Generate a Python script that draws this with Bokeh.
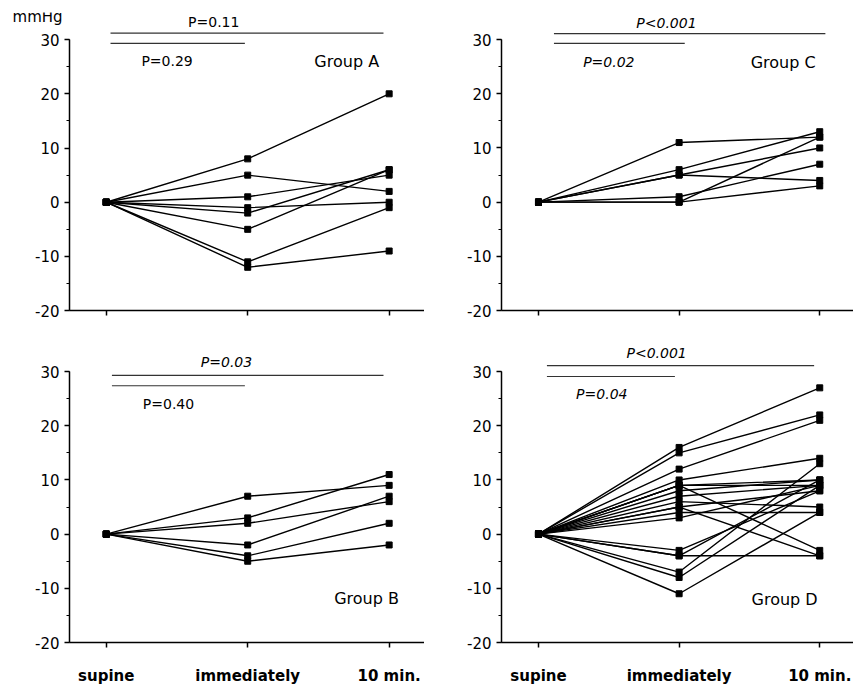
from bokeh.plotting import figure
from bokeh.layouts import column, row
from bokeh.models import Label, FixedTicker, SingleIntervalTicker, Range1d
from bokeh.embed import file_html
from bokeh.resources import INLINE

# ---------------- data ----------------
categories = ["supine", "immediately", "10 min."]

# Group A
a_immediately = [8, 5, 1, -1, -2, -5, -11, -12]
a_10min = [20, 2, 5, 0, 6, 6, -1, -9]
# Group C
c_immediately = [11, 6, 5, 5, 1, 0, 0]
c_10min = [12, 13, 10, 4, 7, 12, 3]
# Group B
b_immediately = [7, 3, 2, -2, -4, -5]
b_10min = [9, 11, 6, 7, 2, -2]
# Group D
d_immediately = [16, 15, 12, 10, 9, 9, 9, 8, 7, 6, 5, 5, 4, 3, -3, -4, -4, -7, -8, -11]
d_10min = [27, 22, 21, 14, 10, 9, -3, 10, 9, 5, 8, -4, 4, 9, 8, -4, 10, 13, 9, 4]

y_ticks = [-20, -10, 0, 10, 20, 30]
y_tick_labels = ["-20", "-10", "0", "10", "20", "30"]

FONT = "DejaVu Sans"


def make_panel(imm, ten, group, p_long, p_short, p_long_italic, p_short_italic,
               xr, frame_w, left, top, bottom, show_cats, geom,
               axis_at=None, y_lo=-20, frame_h=298):
    p = figure(frame_width=frame_w, frame_height=frame_h,
               x_range=Range1d(*xr), y_range=Range1d(y_lo, 35),
               output_backend="svg", toolbar_location=None,
               min_border_left=left, min_border_right=0,
               min_border_top=top, min_border_bottom=bottom)
    p.outline_line_color = None
    p.grid.visible = False

    # y axis
    ya = p.yaxis[0]
    ya.ticker = SingleIntervalTicker(interval=10, num_minor_ticks=2)
    ya.bounds = (-20, 30)
    ya.major_label_overrides = {t: l for t, l in zip(y_ticks, y_tick_labels)}
    ya.major_tick_out = 5
    ya.major_tick_in = 0
    ya.minor_tick_out = 3
    ya.minor_tick_in = 0
    ya.axis_line_width = 1.5
    ya.major_tick_line_width = 1.5
    ya.major_label_standoff = 5
    ya.major_label_text_font = FONT
    ya.major_label_text_font_size = "15px"
    ya.major_label_text_color = "black"
    if axis_at is not None:
        ya.fixed_location = axis_at

    # x axis
    xa = p.xaxis[0]
    xa.ticker = FixedTicker(ticks=[0, 1, 2], minor_ticks=[])
    if axis_at is not None:
        xa.bounds = (axis_at, xr[1])
        xa.fixed_location = -20
    if show_cats:
        xa.major_label_overrides = {i: c for i, c in enumerate(categories)}
    else:
        xa.major_label_overrides = {i: "" for i in range(3)}
    xa.major_tick_out = 5
    xa.major_tick_in = 0
    xa.axis_line_width = 1.5
    xa.major_tick_line_width = 1.5
    xa.major_label_standoff = 19
    xa.major_label_text_font = FONT
    xa.major_label_text_font_size = "15px"
    xa.major_label_text_font_style = "bold"
    xa.major_label_text_color = "black"

    # subject lines
    xs = [[0, 1, 2] for _ in imm]
    ys = [[0, a, b] for a, b in zip(imm, ten)]
    p.multi_line(xs, ys, line_color="black", line_width=1.4)
    px = []
    py = []
    for a, b in zip(imm, ten):
        px += [0, 1, 2]
        py += [0, a, b]
    p.scatter(px, py, marker="square", size=6, color="black")

    # P-value bars
    (lx0, lx1, ly), (sx0, sx1, sy), (ptx, pty), (pstx, psty), (gx, gy) = geom
    p.line([lx0, lx1], [ly, ly], line_color="#333333", line_width=1.1)
    p.line([sx0, sx1], [sy, sy], line_color="#333333", line_width=1.1)
    p.add_layout(Label(x=ptx, y=pty, text=p_long, text_font=FONT, text_font_size="14px",
                       text_font_style="italic" if p_long_italic else "normal",
                       text_color="black", text_align="center", text_baseline="middle"))
    p.add_layout(Label(x=pstx, y=psty, text=p_short, text_font=FONT, text_font_size="14px",
                       text_font_style="italic" if p_short_italic else "normal",
                       text_color="black", text_align="center", text_baseline="middle"))
    p.add_layout(Label(x=gx, y=gy, text=group, text_font=FONT, text_font_size="16px",
                       text_color="black", text_align="center", text_baseline="middle"))
    return p


# Panel A: frame widened left and down so the "mmHg" unit label and the axis labels sit inside it
pA = make_panel(a_immediately, a_10min, "Group A", "P=0.11", "P=0.29", False, False,
                (-0.663, 2.25), 412, 12, 12, 23, False,
                ((0.03, 1.96, 31.2), (0.03, 0.98, 29.3), (0.76, 33.2), (0.43, 26.0), (1.70, 26.0)),
                axis_at=-0.26, y_lo=-22, frame_h=309)
pA.add_layout(Label(x=-0.486, y=34.1, text="mmHg",
                    text_font=FONT, text_font_size="15px", text_color="black",
                    text_align="center", text_baseline="middle"))

pC = make_panel(c_immediately, c_10min, "Group C", "P<0.001", "P=0.02", True, True,
                (-0.263, 2.24), 352, 77, 12, 34, False,
                ((0.11, 2.04, 31.1), (0.11, 1.04, 29.3), (0.91, 33.0), (0.50, 25.8), (1.74, 25.8)))

pB = make_panel(b_immediately, b_10min, "Group B", "P=0.03", "P=0.40", True, False,
                (-0.26, 2.25), 355, 69, 0, 44, True,
                ((0.04, 1.96, 29.3), (0.04, 0.98, 27.4), (0.85, 31.7), (0.44, 24.1), (1.84, -11.9)))

pD = make_panel(d_immediately, d_10min, "Group D", "P<0.001", "P=0.04", True, True,
                (-0.263, 2.24), 352, 77, 0, 44, True,
                ((0.06, 1.96, 31.1), (0.06, 0.97, 29.1), (0.84, 33.4), (0.45, 25.8), (1.75, -12.0)))

layout = column(row(pA, pC), row(pB, pD))

open("out.html", "w").write(file_html(layout, INLINE))
